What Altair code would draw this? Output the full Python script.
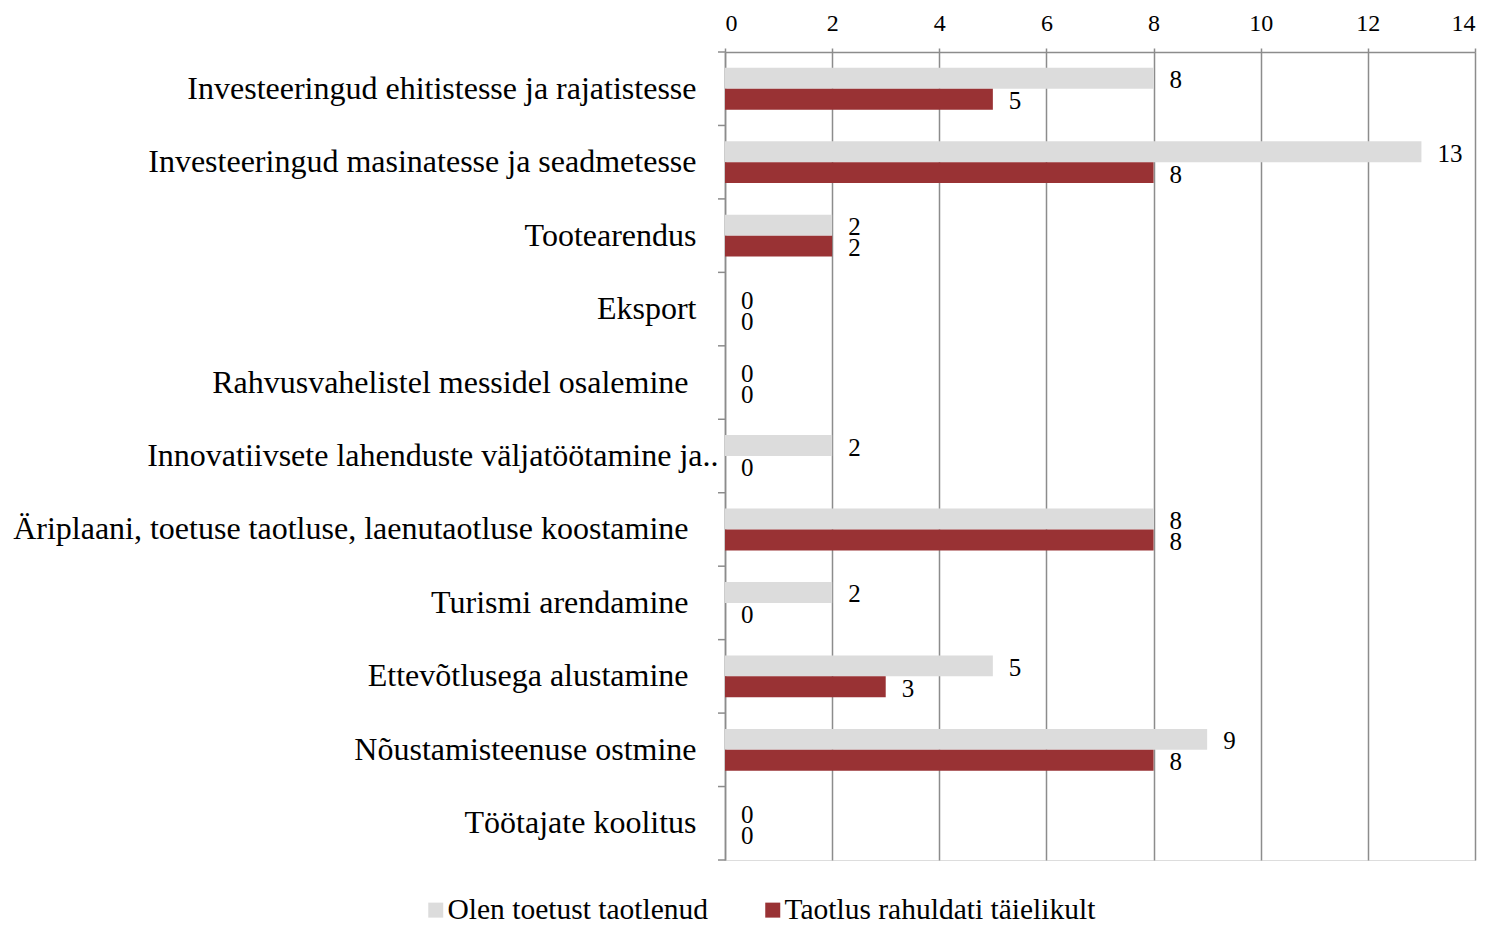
import altair as alt
import pandas as pd

categories = [
    "Investeeringud ehitistesse ja rajatistesse",
    "Investeeringud masinatesse ja seadmetesse",
    "Tootearendus",
    "Eksport",
    "Rahvusvahelistel messidel osalemine",
    "Innovatiivsete lahenduste väljatöötamine ja..",
    "Äriplaani, toetuse taotluse, laenutaotluse koostamine",
    "Turismi arendamine",
    "Ettevõtlusega alustamine",
    "Nõustamisteenuse ostmine",
    "Töötajate koolitus",
]
applied = [8, 13, 2, 0, 0, 2, 8, 2, 5, 9, 0]
granted = [5, 8, 2, 0, 0, 0, 8, 0, 3, 8, 0]
series = ["Olen toetust taotlenud", "Taotlus rahuldati täielikult"]
colors = ["#dcdcdc", "#993234"]
x_ticks = [0, 2, 4, 6, 8, 10, 12, 14]
shifted_labels = [
    "Rahvusvahelistel messidel osalemine",
    "Äriplaani, toetuse taotluse, laenutaotluse koostamine",
    "Turismi arendamine",
    "Ettevõtlusega alustamine",
]
truncated_label = "Innovatiivsete lahenduste väljatöötamine ja.."

rows = []
for c, a, g in zip(categories, applied, granted):
    rows.append({"cat": c, "series": series[0], "value": a})
    rows.append({"cat": c, "series": series[1], "value": g})
df = pd.DataFrame(rows)
cat_df = pd.DataFrame({"cat": categories})
last_df = pd.DataFrame({"cat": categories[-1:]})

FONT = "Liberation Serif"
GRID = "#8c8c8c"

shift_list = "[" + ",".join("'" + s + "'" for s in shifted_labels) + "]"
pad_expr = (
    f"datum.value == '{truncated_label}' ? 7 : "
    f"(indexof({shift_list}, datum.value) >= 0 ? 37 : 29)"
)

y_scale = alt.Scale(domain=categories, paddingInner=0, paddingOuter=0)
y = alt.Y(
    "cat:N", sort=categories, title=None, scale=y_scale,
    axis=alt.Axis(labelFont=FONT, labelFontSize=32, labelColor="black",
                  labelPadding=alt.ExprRef(pad_expr), ticks=False, domainColor=GRID,
                  domainWidth=1.5, labelLimit=900),
)
x = alt.X(
    "value:Q", title=None, scale=alt.Scale(domain=[0, 14], nice=False),
    axis=alt.Axis(orient="top", values=x_ticks, labelFont=FONT, labelFontSize=24,
                  labelColor="black", tickSize=4, tickColor=GRID, tickWidth=1.5,
                  domainColor=GRID, domainWidth=1.5, grid=True, gridColor=GRID,
                  gridWidth=1.5, labelPadding=13),
)
yoff = alt.YOffset("series:N", sort=series,
                   scale=alt.Scale(domain=series, paddingInner=0, paddingOuter=0.754))
color = alt.Color(
    "series:N", sort=series, scale=alt.Scale(domain=series, range=colors),
    legend=alt.Legend(orient="none", legendX=-304, legendY=843, direction="horizontal",
                      title=None, symbolType="square", symbolSize=225,
                      symbolStrokeWidth=0, labelFont=FONT, labelFontSize=29.5,
                      labelColor="black", columnPadding=49,
                      labelOffset=alt.ExprRef("-3"), labelLimit=600),
)

bars = alt.Chart(df).mark_bar().encode(x=x, y=y, yOffset=yoff, color=color)
labels = alt.Chart(df).mark_text(
    align="left", baseline="middle", dx=16, dy=2, font=FONT, fontSize=25, color="black"
).encode(
    x="value:Q",
    y=alt.Y("cat:N", sort=categories),
    yOffset=alt.YOffset("series:N", sort=series),
    text="value:Q",
)
ticks_top = alt.Chart(cat_df).mark_rule(color=GRID, strokeWidth=1.5).encode(
    y=alt.Y("cat:N", sort=categories, bandPosition=0),
    x=alt.value(-7), x2=alt.value(0),
)
ticks_last = alt.Chart(last_df).mark_rule(color=GRID, strokeWidth=1.5).encode(
    y=alt.Y("cat:N", sort=categories, bandPosition=1),
    x=alt.value(-7), x2=alt.value(0),
)

chart = alt.layer(bars, labels, ticks_top, ticks_last).properties(
    width=750, height=808,
    autosize=alt.AutoSizeParams(type="none"),
    padding={"left": 717, "top": 44, "right": 12, "bottom": 60},
).configure_view(stroke=None).configure(background="white")

chart.save("out.html", embed_options={"renderer": "svg", "actions": False})
